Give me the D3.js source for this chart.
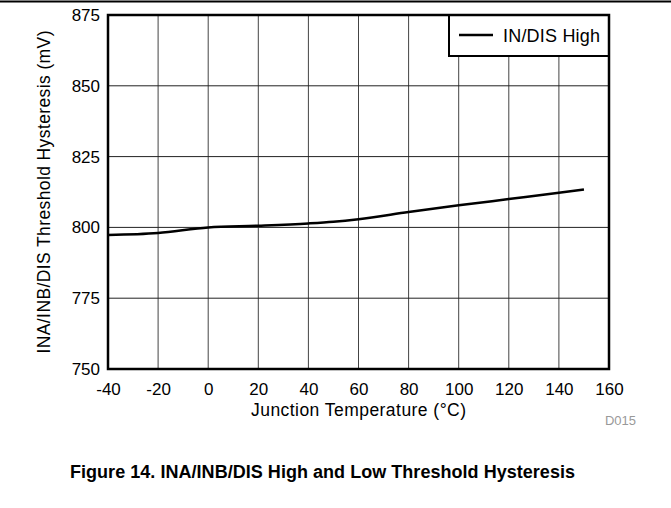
<!DOCTYPE html>
<html>
<head>
<meta charset="utf-8">
<script src="https://cdn.jsdelivr.net/npm/d3@7"></script>
<style>
  body { margin: 0; background: #fff; }
  text { font-family: "Liberation Sans", Arial, sans-serif; }
</style>
</head>
<body>
<div id="chart"></div>
<script>
// data
const temps = [-40, -20, 0, 20, 40, 50, 60, 80, 100, 120, 140, 150];
const hystHigh = [797.3, 798.0, 800.0, 800.6, 801.4, 802.0, 802.9, 805.4, 807.8, 810.0, 812.2, 813.4];
const xTicks = [-40, -20, 0, 20, 40, 60, 80, 100, 120, 140, 160];
const yTicks = [750, 775, 800, 825, 850, 875];
const seriesName = "IN/DIS High";

const W = 671, H = 508;
const margin = { top: 15, right: 62, bottom: 139, left: 108 },
    width = W - margin.left - margin.right,
    height = H - margin.top - margin.bottom;

const root = d3.select("#chart")
    .append("svg")
    .attr("width", W)
    .attr("height", H);

// rule across the top of the page
root.append("line")
    .attr("x1", 0).attr("x2", W)
    .attr("y1", 1.5).attr("y2", 1.5)
    .attr("stroke", "#000")
    .attr("stroke-width", 2);

const svg = root.append("g")
    .attr("transform", `translate(${margin.left},${margin.top})`);

const x = d3.scaleLinear().domain([-40, 160]).range([0, width]);
const y = d3.scaleLinear().domain([750, 875]).range([height, 0]);

// grid
svg.append("g")
    .selectAll("line")
    .data(xTicks.slice(1, -1))
    .join("line")
    .attr("x1", d => x(d)).attr("x2", d => x(d))
    .attr("y1", 0).attr("y2", height)
    .attr("stroke", "#444").attr("stroke-width", 1);
svg.append("g")
    .selectAll("line")
    .data(yTicks.slice(1, -1))
    .join("line")
    .attr("x1", 0).attr("x2", width)
    .attr("y1", d => y(d)).attr("y2", d => y(d))
    .attr("stroke", "#222").attr("stroke-width", 1);

// axes (labels only)
const xAxis = svg.append("g")
    .attr("transform", `translate(0,${height})`)
    .call(d3.axisBottom(x).tickValues(xTicks).tickSize(0).tickPadding(14).tickFormat(d => String(d)));
const yAxis = svg.append("g")
    .call(d3.axisLeft(y).tickValues(yTicks).tickSize(0).tickPadding(8).tickFormat(d => String(d)));
[xAxis, yAxis].forEach(a => {
    a.select(".domain").remove();
    a.selectAll("text")
        .attr("fill", "#000")
        .style("font-size", "17px")
        .style("font-family", "'Liberation Sans', Arial, sans-serif");
});

// curve
const line = d3.line()
    .x((d, i) => x(temps[i]))
    .y(d => y(d))
    .curve(d3.curveMonotoneX);
svg.append("path")
    .datum(hystHigh)
    .attr("d", line)
    .attr("fill", "none")
    .attr("stroke", "#000")
    .attr("stroke-width", 2.5);

// legend
const legW = 160, legH = 41;
const leg = svg.append("g").attr("transform", `translate(${width - legW},0)`);
leg.append("rect")
    .attr("width", legW).attr("height", legH)
    .attr("fill", "#fff").attr("stroke", "#000").attr("stroke-width", 2);
leg.append("line")
    .attr("x1", 10).attr("x2", 44)
    .attr("y1", 20).attr("y2", 20)
    .attr("stroke", "#000").attr("stroke-width", 2.5);
leg.append("text")
    .attr("x", 54).attr("y", 27)
    .attr("textLength", 97)
    .style("font-size", "18px")
    .text(seriesName);

// plot frame
svg.append("rect")
    .attr("width", width).attr("height", height)
    .attr("fill", "none").attr("stroke", "#000").attr("stroke-width", 2.5);

// titles
svg.append("text")
    .attr("x", width / 2).attr("y", height + 47)
    .attr("text-anchor", "middle")
    .attr("textLength", 215)
    .style("font-size", "17.5px")
    .text("Junction Temperature (\u00B0C)");

root.append("text")
    .attr("transform", `translate(50,${margin.top + height / 2}) rotate(-90)`)
    .attr("text-anchor", "middle")
    .attr("textLength", 323)
    .style("font-size", "17.5px")
    .text("INA/INB/DIS Threshold Hysteresis (mV)");

root.append("text")
    .attr("x", 636).attr("y", 425)
    .attr("text-anchor", "end")
    .attr("fill", "#999")
    .style("font-size", "13px")
    .text("D015");

root.append("text")
    .attr("x", 70).attr("y", 478)
    .attr("textLength", 505)
    .style("font-size", "18px")
    .style("font-weight", "bold")
    .text("Figure 14. INA/INB/DIS High and Low Threshold Hysteresis");
</script>
</body>
</html>
